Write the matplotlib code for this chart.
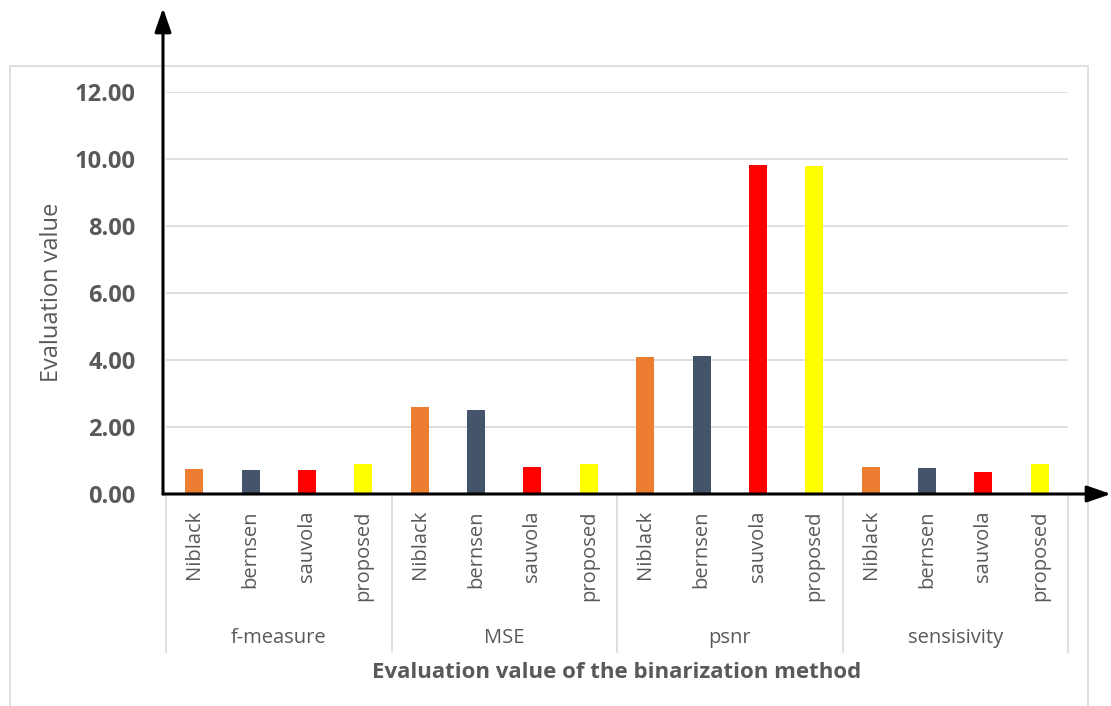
import matplotlib
matplotlib.use("Agg")
import matplotlib.pyplot as plt
from matplotlib.patches import Rectangle, FancyArrowPatch
import numpy as np

plt.rcParams['font.family'] = ['Open Sans', 'DejaVu Sans']

# evaluation results per metric, one value per binarization method
metrics = ["f-measure", "MSE", "psnr", "sensisivity"]
methods = ["Niblack", "bernsen", "sauvola", "proposed"]
f_measure = [0.76, 0.72, 0.72, 0.90]
mse = [2.59, 2.52, 0.82, 0.89]
psnr = [4.08, 4.13, 9.82, 9.80]
sensisivity = [0.80, 0.79, 0.67, 0.90]
method_colors = ["#ED7D31", "#44546A", "#FF0000", "#FFFF00"]
yticks = [0, 2, 4, 6, 8, 10, 12]

values = [f_measure, mse, psnr, sensisivity]
gray = "#595959"
W, H = 1111, 706

fig = plt.figure(figsize=(W / 100, H / 100), dpi=100)
fig.patch.set_facecolor("white")

# light chart-area frame (runs off the bottom edge)
fig.add_artist(Rectangle((10 / W, -0.05), (1088 - 10) / W, (H - 66) / H + 0.05,
                         transform=fig.transFigure, fill=False,
                         edgecolor="#d9d9d9", lw=1.2))

ax = fig.add_axes([166 / W, (H - 494) / H, (1068 - 166) / W, (494 - 92) / H])

x = np.arange(16) + 0.5
heights = [v for grp in values for v in grp]
colors = method_colors * len(metrics)
ax.bar(x, heights, width=0.32, color=colors, zorder=3)

ax.set_xlim(0, 16)
ax.set_ylim(0, 12)
ax.set_yticks(yticks)
ax.set_yticklabels(["%.2f" % t for t in yticks], fontsize=17,
                   fontweight="bold", color=gray)
ax.tick_params(axis="y", length=0, pad=22)
ax.tick_params(axis="x", length=0)
ax.set_xticks([])
ax.yaxis.grid(True, color="#d9d9d9", lw=1.2, zorder=0)
for s in ax.spines.values():
    s.set_visible(False)

tr = ax.get_xaxis_transform()
# method names under each bar
for xi, name in zip(x, methods * len(metrics)):
    ax.text(xi, -0.04, name, transform=tr, rotation=90, ha="center",
            va="top", fontsize=14.5, color=gray)
# group labels and separators
for i, m in enumerate(metrics):
    ax.text(4 * i + 2, -0.358, m, transform=tr, ha="center", va="center",
            fontsize=14.5, color=gray)
for xs in range(0, 17, 4):
    ax.plot([xs, xs], [0, -0.393], transform=tr, color="#d9d9d9",
            lw=1.2, clip_on=False)

ax.text(8, -0.443, "Evaluation value of the binarization method",
        transform=tr, ha="center", va="center", fontsize=16,
        fontweight="bold", color=gray)
fig.text(52 / W, (H - 292) / H, "Evaluation value", rotation=90,
         ha="center", va="center", fontsize=17, color=gray)

# black axis arrows
style = "-|>,head_length=1.45,head_width=0.5"
for start, end in [((163, 494), (163, 8)), ((163, 494), (1111, 494))]:
    fig.add_artist(FancyArrowPatch(
        (start[0] / W, 1 - start[1] / H), (end[0] / W, 1 - end[1] / H),
        transform=fig.transFigure, arrowstyle=style, mutation_scale=10,
        color="black", lw=2.2, shrinkA=0, shrinkB=0))

fig.savefig("out.png", dpi=100)
